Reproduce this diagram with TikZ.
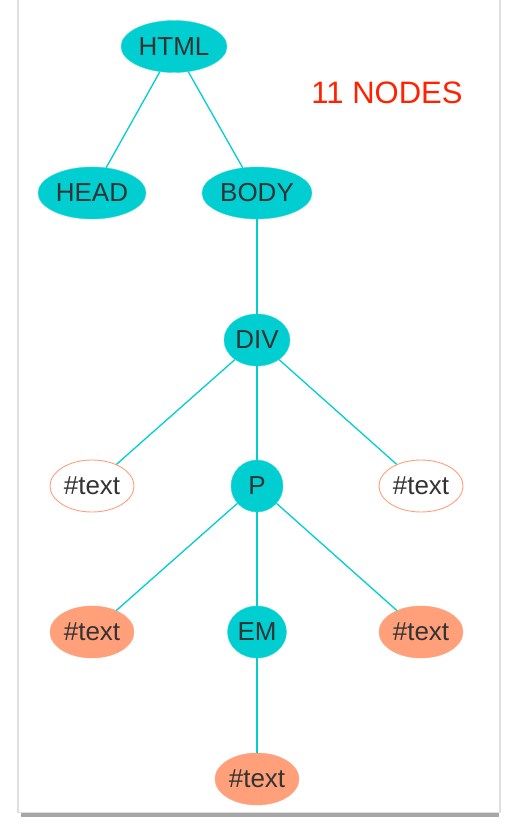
\documentclass[tikz,border=0pt]{standalone}
\usepackage{fontspec}
\setmainfont{Liberation Sans}
\usetikzlibrary{shapes.geometric}
\definecolor{teal1}{HTML}{00CED1}
\definecolor{salmon1}{HTML}{FFA07A}
\definecolor{txt}{HTML}{333333}
\definecolor{redtxt}{HTML}{FF2200}
\begin{document}
\begin{tikzpicture}[x=1pt,y=-1pt,
  lbl/.style={text=txt,font=\fontsize{26}{26}\selectfont,inner sep=0pt,minimum height=52pt},
  tnode/.style={ellipse,fill=teal1,draw=teal1!80!white,lbl},
  snode/.style={ellipse,fill=salmon1,draw=salmon1,lbl,minimum width=84pt},
  onode/.style={ellipse,fill=white,draw=salmon1,line width=0.9pt,lbl,minimum width=84pt},
  edge/.style={draw=teal1,line width=1.3pt}]
\useasboundingbox (0,0) rectangle (518,826);
% card
\fill[gray!70] (21,812) rectangle (499,817);
\fill[gray!25] (17,-2) rectangle (501,813);
\fill[white] (19,-2) rectangle (499,812);
% nodes
\node[tnode,minimum width=106pt] (html) at (174,46.5) {HTML};
\node[tnode,minimum width=108pt] (head) at (92,193) {HEAD};
\node[tnode,minimum width=110pt] (body) at (257,193) {BODY};
\node[tnode,minimum width=66pt] (div) at (257,340) {DIV};
\node[onode] (t1) at (92,486) {\#text};
\node[tnode,minimum width=52pt] (p) at (257,486) {P};
\node[onode] (t2) at (421,486) {\#text};
\node[snode] (t3) at (92,632) {\#text};
\node[tnode,minimum width=59pt] (em) at (257,632) {EM};
\node[snode] (t4) at (421,632) {\#text};
\node[snode] (t5) at (257,779) {\#text};
\node[text=redtxt,font=\fontsize{31}{31}\selectfont] (count) at (387,93) {11 NODES};
% edges
\draw[edge] (html) -- (head);
\draw[edge] (html) -- (body);
\draw[edge] (body) -- (div);
\draw[edge] (div) -- (t1);
\draw[edge] (div) -- (p);
\draw[edge] (div) -- (t2);
\draw[edge] (p) -- (t3);
\draw[edge] (p) -- (em);
\draw[edge] (p) -- (t4);
\draw[edge] (em) -- (t5);
\end{tikzpicture}
\end{document}
